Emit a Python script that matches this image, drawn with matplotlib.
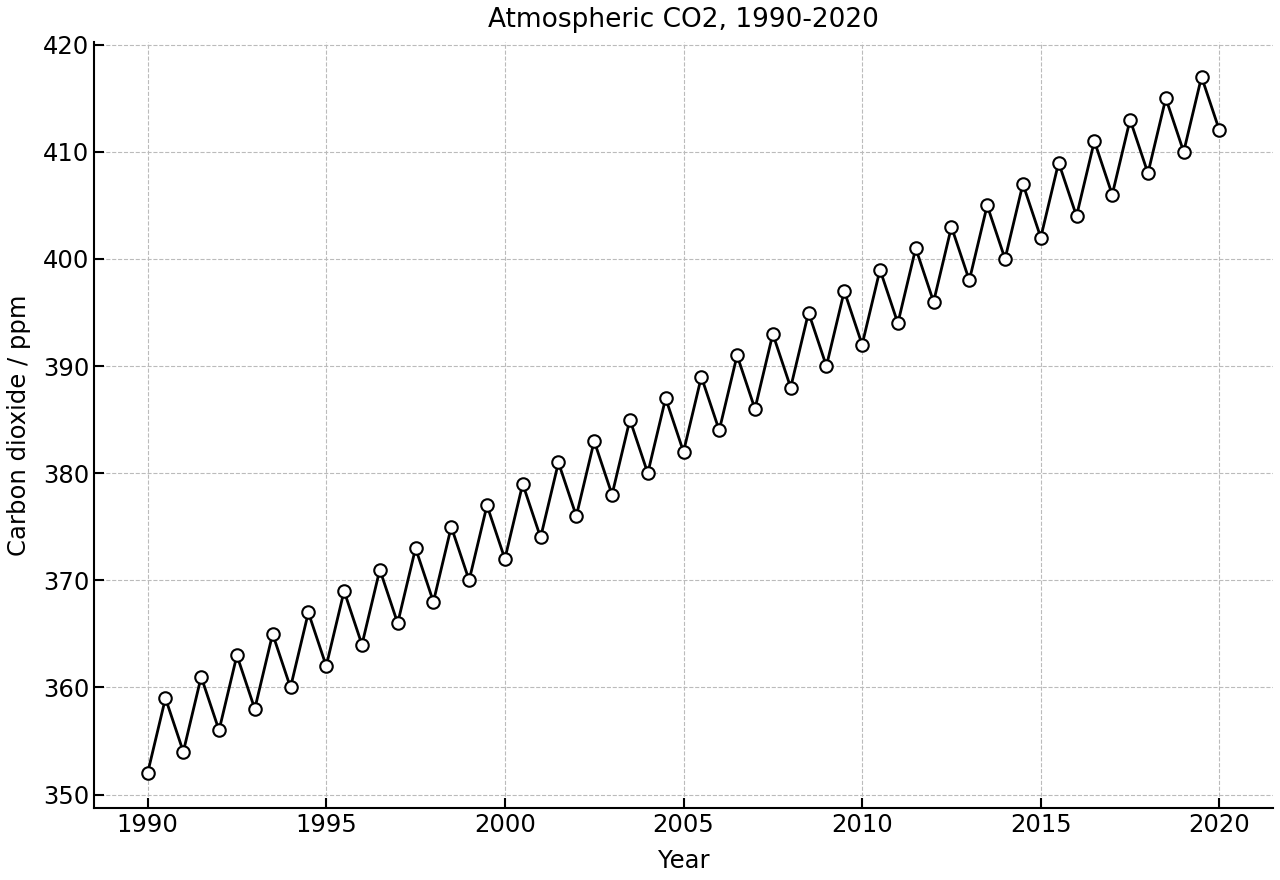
import matplotlib
matplotlib.use("Agg")
import matplotlib.pyplot as plt

years = [1990.0, 1990.5, 1991.0, 1991.5, 1992.0, 1992.5, 1993.0, 1993.5, 1994.0, 1994.5,
         1995.0, 1995.5, 1996.0, 1996.5, 1997.0, 1997.5, 1998.0, 1998.5, 1999.0, 1999.5,
         2000.0, 2000.5, 2001.0, 2001.5, 2002.0, 2002.5, 2003.0, 2003.5, 2004.0, 2004.5,
         2005.0, 2005.5, 2006.0, 2006.5, 2007.0, 2007.5, 2008.0, 2008.5, 2009.0, 2009.5,
         2010.0, 2010.5, 2011.0, 2011.5, 2012.0, 2012.5, 2013.0, 2013.5, 2014.0, 2014.5,
         2015.0, 2015.5, 2016.0, 2016.5, 2017.0, 2017.5, 2018.0, 2018.5, 2019.0, 2019.5,
         2020.0]
co2 = [352, 359, 354, 361, 356, 363, 358, 365, 360, 367,
       362, 369, 364, 371, 366, 373, 368, 375, 370, 377,
       372, 379, 374, 381, 376, 383, 378, 385, 380, 387,
       382, 389, 384, 391, 386, 393, 388, 395, 390, 397,
       392, 399, 394, 401, 396, 403, 398, 405, 400, 407,
       402, 409, 404, 411, 406, 413, 408, 415, 410, 417,
       412]

plt.rcParams["font.size"] = 17.5

fig = plt.figure(figsize=(12.8, 8.8), dpi=100)
ax = fig.add_axes([94 / 1280, 1 - 808 / 880, (1273 - 94) / 1280, (808 - 42) / 880])

ax.plot(years, co2, color="black", linewidth=2, marker="o", markersize=9,
        markerfacecolor="white", markeredgecolor="black", markeredgewidth=1.5, zorder=3)

ax.set_title("Atmospheric CO2, 1990-2020", fontsize=19, pad=11)
ax.set_xlabel("Year", fontsize=17.5, labelpad=8.5)
ax.set_ylabel("Carbon dioxide / ppm", fontsize=17.5, labelpad=8.5)
ax.set_xticks([1990, 1995, 2000, 2005, 2010, 2015, 2020])
ax.set_yticks(range(350, 421, 10))
ax.grid(True, linestyle="--", color="#bbbbbb", linewidth=0.8)
ax.tick_params(direction="in", length=7, width=1.5, labelsize=17.5)
ax.spines["top"].set_visible(False)
ax.spines["right"].set_visible(False)
ax.spines["left"].set_linewidth(1.5)
ax.spines["bottom"].set_linewidth(1.5)

fig.savefig("out.png", dpi=100)
